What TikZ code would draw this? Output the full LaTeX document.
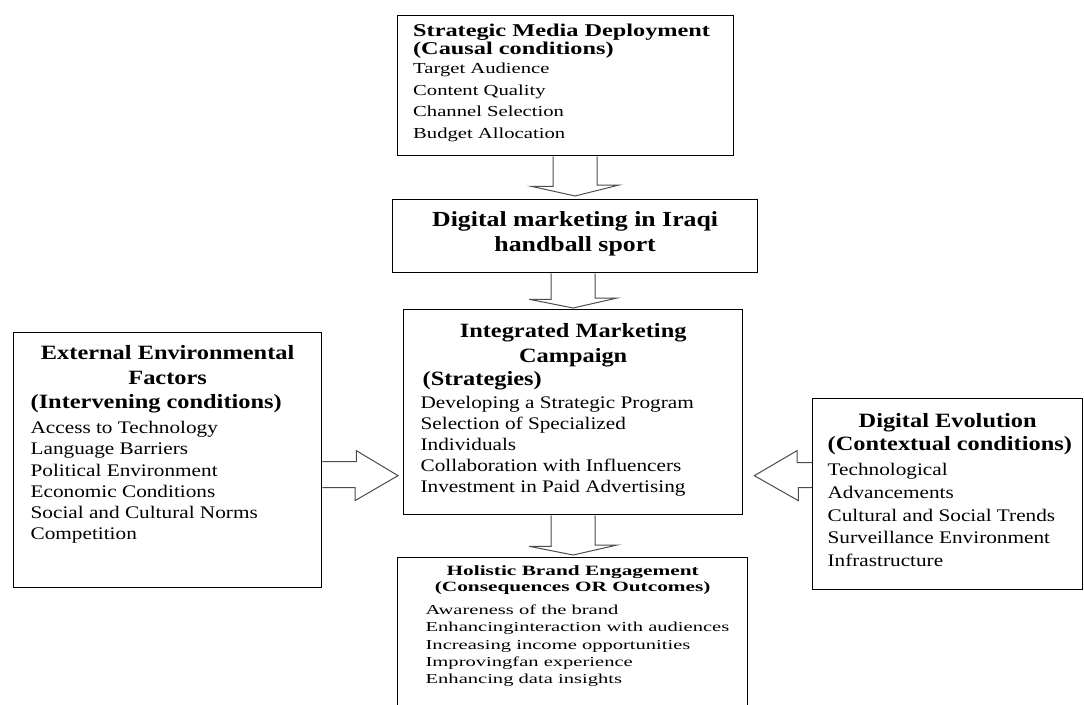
\documentclass[tikz,border=0pt]{standalone}
\usepackage{fontspec}
\setmainfont{Liberation Serif}[FakeStretch=1.2]
\newfontfamily\topfont{Liberation Serif}[FakeStretch=1.35]
\newfontfamily\lowfont{Liberation Serif}[FakeStretch=1.5]
\usetikzlibrary{calc}
\setlength{\lineskiplimit}{-100pt}
\begin{document}
\begin{tikzpicture}[x=1pt,y=-1pt,
infobox/.style={draw,line width=1.3pt,inner sep=0pt,anchor=north west},
blockarrow/.style={draw=black!70,line width=1pt,line join=miter}]
\useasboundingbox[fill=white] (0,0) rectangle (1084,704);

\draw (397,15) node[infobox] (media) {\parbox[t][140pt][t]{336pt}{\topfont\leftskip=15.5pt
\fontsize{18}{12.5}\selectfont\bfseries\rule{0pt}{21pt}Strategic Media Deployment\\(Causal conditions)\par
\vspace{-2pt}\fontsize{15.3}{21.5}\selectfont\mdseries Target Audience\\Content Quality\\Channel Selection\\Budget Allocation\par}};

\draw (392,199) node[infobox] (dm) {\parbox[t][73pt][t]{365pt}{\centering\fontsize{21.5}{25}\selectfont\bfseries
\rule{0pt}{27pt}Digital marketing in Iraqi\\handball sport\par}};

\draw (403,309) node[infobox] (imc) {\parbox[t][205pt][t]{339pt}{\fontsize{20.3}{25}\selectfont\bfseries
{\centering\rule{0pt}{28pt}Integrated Marketing\\Campaign\par}
{\leftskip=19pt\fontsize{20.3}{23}\selectfont(Strategies)\par}
\leftskip=17pt\fontsize{17.7}{21}\selectfont\mdseries\vspace{2pt}Developing a Strategic Program\\Selection of Specialized\\Individuals\\Collaboration with Influencers\\Investment in Paid Advertising\par}};

\draw (13,332) node[infobox] (ext) {\parbox[t][255pt][t]{308pt}{\fontsize{20.3}{25}\selectfont\bfseries
{\centering\rule{0pt}{27pt}External Environmental\\Factors\par}
{\leftskip=17pt\fontsize{20.3}{24}\selectfont(Intervening conditions)\par}
\leftskip=17pt\fontsize{17.7}{21.2}\selectfont\mdseries\vspace{3.8pt}Access to Technology\\Language Barriers\\Political Environment\\Economic Conditions\\Social and Cultural Norms\\Competition\par}};

\draw (812,398) node[infobox] (evo) {\parbox[t][191pt][t]{270pt}{\fontsize{20.3}{23}\selectfont\bfseries
{\centering\rule{0pt}{29pt}Digital Evolution\par}
{\leftskip=15pt(Contextual conditions)\par}
\leftskip=15pt\fontsize{17.7}{22.75}\selectfont\mdseries\vspace{2.25pt}Technological\\Advancements\\Cultural and Social Trends\\Surveillance Environment\\Infrastructure\par}};

\draw (397,557) node[infobox] (hol) {\parbox[t][155pt][t]{350pt}{\lowfont\fontsize{14.2}{16}\selectfont\bfseries
{\centering\rule{0pt}{18pt}Holistic Brand Engagement\\(Consequences OR Outcomes)\par}
\leftskip=28pt\fontsize{13.7}{17.25}\selectfont\mdseries\vspace{5.75pt}Awareness of the brand\\Enhancinginteraction with audiences\\Increasing income opportunities\\Improvingfan experience\\Enhancing data insights\par}};

\draw[blockarrow] ($(dm.north |- media.south)+(-22,0)$) -- ++(0,30) -- ++(-22,0) -- ($(dm.north)+(0,-3)$) -- ++(44,-11) -- ++(-22,0) -- ($(dm.north |- media.south)+(22,0)$);
\draw[blockarrow] ($(imc.north |- dm.south)+(-22,0)$) -- ++(0,26) -- ++(-22,0) -- ($(imc.north)+(0,-1)$) -- ++(44,-10) -- ++(-22,0) -- ($(imc.north |- dm.south)+(22,0)$);
\draw[blockarrow] ($(imc.south)+(-22,0)$) -- ++(0,31) -- ++(-22,0) -- ($(imc.south |- hol.north)+(0,-2)$) -- ++(44,-10) -- ++(-22,0) -- ($(imc.south)+(22,0)$);

\draw[blockarrow] ($(ext.east)+(0,1.5)$) -- ++(34,0) -- ++(0,-11) -- ($(imc.west |- ext.east)+(-5,15.5)$) -- ++(-43,25) -- ++(0,-13) -- ($(ext.east)+(0,27.5)$);
\draw[blockarrow] ($(evo.west)+(0,-31.5)$) -- ++(-15,0) -- ++(0,-12) -- ($(imc.east |- evo.west)+(11,-18.5)$) -- ++(44,25) -- ++(0,-13) -- ($(evo.west)+(0,-6.5)$);
\end{tikzpicture}
\end{document}
